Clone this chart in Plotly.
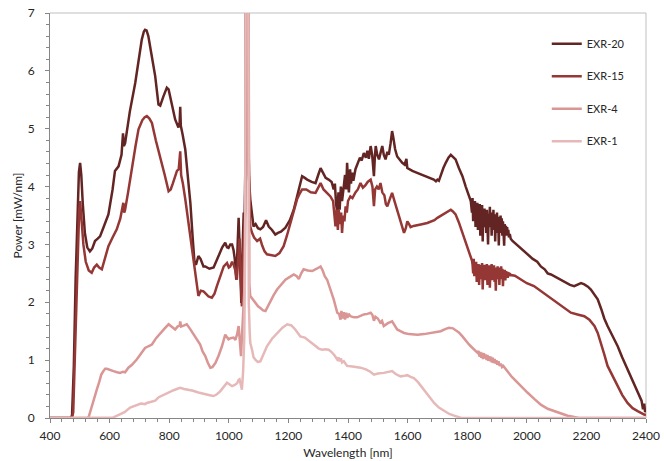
import plotly.graph_objects as go

# ---------------- data ----------------
# each series: (wavelength nm, power mW/nm); values above 7 are the clipped ~1064 nm laser line
exr20 = [(400, 0), (470, 0), (474, 0.05), (480, 0.9), (486, 2.4), (492, 3.6), (497, 4.25), (501, 4.41), (505, 4.2),
         (510, 3.7), (517, 3.2), (525, 2.95), (534, 2.88), (542, 2.93), (551, 3.06), (560, 3.1), (568, 3.14),
         (580, 3.3), (596, 3.52), (610, 3.95), (618, 4.27), (630, 4.35), (640, 4.55), (645, 4.92), (648, 4.7),
         (652, 4.75), (668, 5.3), (686, 5.79), (700, 6.3), (708, 6.54), (715, 6.68), (719, 6.71), (724, 6.7),
         (730, 6.6), (740, 6.3), (753, 5.91), (764, 5.42), (770, 5.4), (780, 5.55), (792, 5.71), (798, 5.68),
         (803, 5.56), (812, 5.35), (820, 5.16), (831, 5.02), (835, 5.1), (837, 5.38), (839, 5.05), (845, 4.9),
         (854, 4.64), (862, 4.2), (871, 3.72), (879, 3.1), (885, 2.68), (890, 2.65), (898, 2.8), (905, 2.75),
         (915, 2.62), (921, 2.62), (935, 2.58), (949, 2.6), (958, 2.7), (966, 2.8), (978, 2.95), (988, 3.03),
         (994, 2.95), (999, 2.94), (1005, 3.0), (1011, 3.0), (1016, 2.9), (1020, 2.75), (1025, 2.39), (1029, 2.9),
         (1033, 3.46), (1036, 3.0), (1040, 2.2), (1042, 1.99), (1045, 2.7), (1048, 3.4), (1050, 3.55), (1053, 3.4),
         (1056, 4.5), (1058, 12), (1064, 12), (1067, 4.2), (1070, 3.9), (1072, 3.78), (1076, 3.6), (1083, 3.31),
         (1090, 3.35), (1098, 3.28), (1106, 3.26), (1115, 3.3), (1125, 3.42), (1134, 3.31), (1145, 3.25),
         (1156, 3.17), (1165, 3.2), (1175, 3.22), (1190, 3.29), (1205, 3.42), (1218, 3.6), (1232, 3.9),
         (1246, 4.18), (1255, 4.15), (1263, 4.12), (1278, 4.08), (1291, 4.06), (1300, 4.2), (1308, 4.32),
         (1315, 4.25), (1325, 4.15), (1335, 4.12), (1345, 4.08), (1352, 3.95), (1356, 4.05), (1360, 3.7),
         (1364, 3.55), (1368, 3.9), (1372, 3.6), (1376, 4.0), (1380, 3.75), (1386, 4.01), (1390, 4.2),
         (1394, 3.95), (1397, 4.41), (1400, 4.1), (1403, 3.9), (1407, 4.3), (1410, 4.05), (1414, 4.24),
         (1418, 4.1), (1425, 4.3), (1432, 4.4), (1440, 4.5), (1446, 4.45), (1453, 4.58), (1460, 4.5),
         (1465, 4.62), (1470, 4.48), (1476, 4.7), (1481, 4.55), (1487, 4.18), (1490, 4.5), (1493, 4.7),
         (1498, 4.55), (1504, 4.47), (1510, 4.6), (1515, 4.7), (1520, 4.55), (1526, 4.47), (1532, 4.6),
         (1537, 4.55), (1543, 4.75), (1548, 4.96), (1552, 4.85), (1558, 4.65), (1565, 4.52), (1572, 4.47),
         (1582, 4.41), (1590, 4.38), (1596, 4.48), (1599, 4.32), (1605, 4.3), (1616, 4.27), (1630, 4.24),
         (1644, 4.21), (1660, 4.18), (1677, 4.15), (1688, 4.12), (1695, 4.09), (1700, 4.12), (1705, 4.1),
         (1711, 4.2), (1720, 4.32), (1728, 4.41), (1737, 4.5), (1745, 4.55), (1752, 4.52), (1761, 4.47),
         (1772, 4.32), (1784, 4.18), (1795, 4.0), (1806, 3.83), (1812, 3.75),
         (1816, 3.55), (1818, 3.8), (1820, 3.4), (1822, 3.7), (1824, 3.45), (1826, 3.75), (1828, 3.3),
         (1830, 3.65), (1832, 3.5), (1834, 3.72), (1836, 3.25), (1838, 3.6), (1840, 3.4), (1842, 3.7),
         (1844, 3.15), (1846, 3.55), (1848, 3.35), (1850, 3.68), (1852, 3.05), (1854, 3.5), (1856, 3.3),
         (1858, 3.62), (1860, 3.4), (1862, 3.58), (1864, 3.2), (1866, 3.6), (1868, 3.35), (1870, 3.0),
         (1872, 3.52), (1874, 3.3), (1876, 3.65), (1878, 3.4), (1880, 3.55), (1882, 3.15), (1884, 3.5),
         (1886, 3.3), (1888, 3.6), (1890, 3.25), (1892, 3.52), (1894, 3.05), (1896, 3.45), (1898, 3.3),
         (1900, 3.55), (1902, 3.2), (1904, 3.48), (1906, 2.98), (1908, 3.4), (1910, 3.25), (1912, 3.5),
         (1914, 3.2), (1916, 3.45), (1918, 3.15), (1920, 3.4), (1922, 3.25), (1924, 2.98), (1926, 3.35),
         (1928, 3.2), (1930, 3.32), (1932, 3.15), (1934, 3.3), (1936, 3.15), (1938, 3.25), (1940, 3.12),
         (1943, 3.18), (1946, 3.1), (1952, 3.06), (1965, 3.0), (1980, 2.93), (2002, 2.83), (2020, 2.75),
         (2035, 2.7), (2047, 2.62), (2060, 2.57), (2070, 2.5), (2081, 2.48), (2095, 2.44), (2114, 2.39),
         (2130, 2.35), (2145, 2.3), (2159, 2.28), (2170, 2.3), (2182, 2.33), (2193, 2.31), (2205, 2.27),
         (2215, 2.22), (2225, 2.15), (2238, 2.05), (2250, 1.88), (2260, 1.72), (2271, 1.59), (2288, 1.42),
         (2305, 1.24), (2320, 1.05), (2338, 0.84), (2355, 0.65), (2372, 0.44), (2385, 0.3), (2390, 0.15),
         (2394, 0.25), (2397, 0.1), (2400, 0.15)]

exr15 = [(400, 0), (474, 0), (478, 0.1), (483, 1.0), (489, 2.3), (494, 3.2), (498, 3.6), (501, 3.75), (505, 3.5),
         (512, 3.0), (520, 2.7), (530, 2.55), (540, 2.51), (548, 2.6), (557, 2.65), (565, 2.6), (574, 2.57),
         (585, 2.75), (596, 2.97), (610, 3.12), (624, 3.26), (636, 3.45), (644, 3.68), (646, 3.72), (649, 3.55),
         (652, 3.6), (662, 3.9), (675, 4.35), (687, 4.7), (697, 4.99), (710, 5.15), (718, 5.2), (725, 5.22),
         (733, 5.18), (742, 5.1), (755, 4.8), (770, 4.52), (785, 4.2), (798, 3.92), (805, 3.95), (812, 4.05),
         (820, 4.2), (826, 4.27), (832, 4.3), (835, 4.5), (837, 4.61), (840, 4.2), (846, 4.05), (854, 3.78),
         (865, 3.35), (876, 2.97), (887, 2.5), (895, 2.15), (898, 2.11), (906, 2.2), (915, 2.19), (921, 2.16),
         (932, 2.1), (943, 2.08), (952, 2.15), (960, 2.28), (972, 2.45), (983, 2.62), (994, 2.68), (1000, 2.6),
         (1005, 2.62), (1011, 2.7), (1016, 2.65), (1022, 2.55), (1027, 2.39), (1031, 2.8), (1036, 3.1),
         (1040, 2.4), (1044, 1.93), (1048, 2.8), (1052, 3.3), (1055, 3.6), (1058, 12), (1064, 12), (1067, 4.5),
         (1070, 3.5), (1072, 3.31), (1078, 3.2), (1085, 3.12), (1095, 3.06), (1105, 3.1), (1112, 2.98),
         (1120, 2.88), (1128, 2.83), (1140, 2.82), (1156, 2.8), (1170, 2.85), (1184, 2.97), (1195, 3.15),
         (1207, 3.37), (1218, 3.6), (1229, 3.78), (1238, 3.88), (1246, 3.95), (1260, 3.95), (1275, 3.9),
         (1291, 3.89), (1300, 3.98), (1308, 4.06), (1318, 3.95), (1330, 3.88), (1341, 3.83), (1350, 3.75),
         (1355, 3.5), (1358, 3.31), (1362, 3.6), (1366, 3.25), (1369, 3.6), (1373, 3.35), (1377, 3.55),
         (1380, 3.2), (1384, 3.5), (1388, 3.4), (1392, 3.66), (1396, 3.55), (1400, 3.75), (1408, 3.83),
         (1415, 3.8), (1425, 3.9), (1433, 3.95), (1442, 4.06), (1450, 3.98), (1458, 4.02), (1466, 4.08),
         (1476, 4.12), (1482, 4.0), (1487, 3.66), (1491, 3.95), (1497, 4.0), (1503, 3.95), (1509, 4.06),
         (1515, 3.9), (1522, 3.85), (1527, 3.7), (1532, 3.66), (1540, 3.78), (1548, 3.89), (1556, 3.75),
         (1565, 3.6), (1576, 3.4), (1588, 3.2), (1594, 3.28), (1599, 3.4), (1605, 3.35), (1610, 3.3),
         (1620, 3.32), (1633, 3.34), (1648, 3.35), (1666, 3.37), (1680, 3.4), (1690, 3.42), (1700, 3.46),
         (1714, 3.5), (1728, 3.55), (1738, 3.58), (1745, 3.6), (1752, 3.57), (1761, 3.52), (1772, 3.38),
         (1784, 3.2), (1795, 3.05), (1806, 2.9), (1812, 2.8), (1816, 2.72),
         (1818, 2.65), (1820, 2.5), (1822, 2.75), (1824, 2.45), (1826, 2.68), (1828, 2.5), (1830, 2.7),
         (1832, 2.35), (1834, 2.62), (1836, 2.45), (1838, 2.66), (1840, 2.3), (1842, 2.6), (1844, 2.45),
         (1846, 2.65), (1848, 2.4), (1850, 2.68), (1852, 2.22), (1854, 2.6), (1856, 2.45), (1858, 2.65),
         (1860, 2.38), (1862, 2.62), (1864, 2.5), (1866, 2.66), (1868, 2.3), (1870, 2.6), (1872, 2.42),
         (1874, 2.64), (1876, 2.25), (1878, 2.58), (1880, 2.45), (1882, 2.66), (1884, 2.38), (1886, 2.6),
         (1888, 2.45), (1890, 2.64), (1892, 2.35), (1894, 2.6), (1896, 2.2), (1898, 2.56), (1900, 2.45),
         (1902, 2.62), (1904, 2.4), (1906, 2.6), (1908, 2.3), (1910, 2.58), (1912, 2.45), (1914, 2.62),
         (1916, 2.4), (1918, 2.58), (1920, 2.28), (1922, 2.55), (1924, 2.42), (1926, 2.56), (1928, 2.38),
         (1930, 2.54), (1932, 2.44), (1934, 2.53), (1936, 2.42), (1938, 2.52), (1940, 2.45), (1943, 2.5),
         (1946, 2.47), (1960, 2.46), (1980, 2.39), (2000, 2.33), (2024, 2.28), (2045, 2.2), (2069, 2.11),
         (2085, 2.05), (2103, 1.99), (2125, 1.9), (2148, 1.82), (2170, 1.79), (2193, 1.76), (2210, 1.7),
         (2227, 1.59), (2238, 1.47), (2249, 1.3), (2260, 1.1), (2271, 0.9), (2288, 0.72), (2305, 0.55),
         (2320, 0.4), (2338, 0.26), (2355, 0.17), (2372, 0.12), (2385, 0.08), (2394, 0.06), (2400, 0.05)]

exr4 = [(400, 0), (525, 0), (530, 0.02), (540, 0.2), (550, 0.4), (557, 0.49), (565, 0.62), (572, 0.75), (579, 0.81),
        (585, 0.85), (591, 0.85), (600, 0.83), (613, 0.81), (625, 0.79), (635, 0.78), (645, 0.8), (652, 0.79),
        (663, 0.87), (675, 0.92), (691, 1.01), (705, 1.1), (719, 1.21), (730, 1.24), (742, 1.27), (756, 1.38),
        (770, 1.47), (785, 1.55), (798, 1.62), (808, 1.58), (820, 1.53), (828, 1.58), (835, 1.6), (837, 1.67),
        (840, 1.58), (850, 1.6), (859, 1.62), (870, 1.54), (882, 1.44), (893, 1.36), (904, 1.27), (912, 1.15),
        (921, 1.07), (930, 0.95), (938, 0.87), (945, 0.88), (955, 0.95), (966, 1.08), (977, 1.24), (988, 1.44),
        (994, 1.4), (999, 1.36), (1006, 1.38), (1016, 1.39), (1022, 1.35), (1028, 1.45), (1033, 1.59),
        (1037, 1.3), (1041, 1.07), (1044, 1.4), (1048, 1.76), (1052, 2.2), (1055, 3.5), (1058, 12), (1064, 12),
        (1067, 3.0), (1069, 2.3), (1072, 2.11), (1080, 2.05), (1089, 1.99), (1098, 1.93), (1106, 1.9),
        (1115, 1.86), (1123, 1.85), (1130, 1.92), (1139, 2.02), (1150, 2.12), (1162, 2.22), (1175, 2.3),
        (1190, 2.39), (1205, 2.44), (1218, 2.48), (1228, 2.45), (1235, 2.4), (1243, 2.5), (1251, 2.57),
        (1265, 2.55), (1280, 2.54), (1295, 2.58), (1308, 2.62), (1315, 2.55), (1322, 2.45), (1330, 2.39),
        (1340, 2.25), (1352, 2.05), (1364, 1.82), (1370, 1.8), (1375, 1.7), (1378, 1.85), (1382, 1.72),
        (1386, 1.83), (1390, 1.7), (1394, 1.82), (1398, 1.73), (1402, 1.8), (1408, 1.76), (1420, 1.74),
        (1431, 1.74), (1442, 1.77), (1453, 1.79), (1465, 1.8), (1476, 1.82), (1482, 1.78), (1487, 1.68),
        (1492, 1.75), (1500, 1.72), (1508, 1.65), (1514, 1.68), (1520, 1.59), (1534, 1.64), (1548, 1.67),
        (1556, 1.6), (1565, 1.53), (1576, 1.5), (1588, 1.47), (1605, 1.45), (1633, 1.44), (1655, 1.45),
        (1677, 1.47), (1695, 1.48), (1711, 1.5), (1728, 1.54), (1739, 1.56), (1752, 1.55), (1762, 1.52),
        (1772, 1.48), (1784, 1.41), (1795, 1.33), (1806, 1.27), (1812, 1.24), (1820, 1.2), (1834, 1.13),
        (1838, 1.16), (1841, 1.06), (1844, 1.14), (1847, 1.04), (1850, 1.13), (1853, 1.02), (1856, 1.12),
        (1859, 1.03), (1862, 1.1), (1865, 1.0), (1868, 1.09), (1871, 0.99), (1874, 1.07), (1877, 0.98),
        (1880, 1.06), (1883, 0.96), (1886, 1.04), (1889, 0.95), (1892, 1.02), (1895, 0.94), (1898, 1.0),
        (1901, 0.92), (1905, 0.98), (1909, 0.9), (1913, 0.94), (1917, 0.88), (1921, 0.9), (1927, 0.86),
        (1935, 0.81), (1950, 0.71), (1969, 0.61), (1985, 0.52), (2002, 0.44), (2025, 0.33), (2047, 0.23),
        (2070, 0.16), (2092, 0.12), (2115, 0.07), (2137, 0.04), (2155, 0.02), (2175, 0.0), (2400, 0.0)]

exr1 = [(400, 0), (605, 0), (612, 0.01), (620, 0.03), (635, 0.06), (650, 0.1), (669, 0.18), (680, 0.2), (691, 0.23),
        (705, 0.25), (719, 0.24), (725, 0.26), (740, 0.28), (753, 0.3), (765, 0.36), (780, 0.4), (798, 0.44),
        (815, 0.48), (830, 0.51), (837, 0.52), (850, 0.5), (865, 0.49), (880, 0.47), (898, 0.44), (920, 0.42),
        (940, 0.39), (949, 0.38), (960, 0.41), (971, 0.46), (982, 0.53), (994, 0.61), (1003, 0.58), (1011, 0.55),
        (1020, 0.57), (1028, 0.6), (1033, 0.66), (1036, 0.67), (1040, 0.58), (1044, 0.49), (1048, 0.8),
        (1052, 1.4), (1055, 3.0), (1058, 12), (1064, 12), (1067, 2.0), (1070, 1.5), (1072, 1.3), (1078, 1.18),
        (1083, 1.05), (1089, 1.01), (1097, 0.97), (1106, 0.98), (1117, 1.1), (1128, 1.24), (1145, 1.37),
        (1162, 1.47), (1180, 1.56), (1196, 1.62), (1210, 1.6), (1223, 1.53), (1232, 1.47), (1240, 1.41),
        (1255, 1.39), (1270, 1.33), (1282, 1.28), (1291, 1.24), (1302, 1.2), (1313, 1.18), (1325, 1.19),
        (1335, 1.18), (1345, 1.14), (1355, 1.08), (1364, 1.01), (1368, 1.05), (1372, 0.98), (1376, 1.03),
        (1380, 0.96), (1386, 0.98), (1397, 0.9), (1415, 0.89), (1430, 0.88), (1442, 0.87), (1460, 0.84),
        (1475, 0.8), (1487, 0.75), (1500, 0.77), (1520, 0.78), (1535, 0.8), (1548, 0.81), (1560, 0.76),
        (1576, 0.72), (1590, 0.73), (1599, 0.74), (1610, 0.71), (1621, 0.69), (1635, 0.62), (1655, 0.49),
        (1672, 0.37), (1689, 0.26), (1705, 0.18), (1722, 0.12), (1740, 0.07), (1756, 0.04), (1770, 0.01),
        (1780, 0.0), (2400, 0.0)]

series_names = ["EXR-20", "EXR-15", "EXR-4", "EXR-1"]
series_data = [exr20, exr15, exr4, exr1]
series_colors = ["#632523", "#953735", "#D99694", "#E6B9B8"]
x_ticks = [400, 600, 800, 1000, 1200, 1400, 1600, 1800, 2000, 2200, 2400]
y_ticks = [0, 1, 2, 3, 4, 5, 6, 7]

# ---------------- figure ----------------
FONT = "Lato, 'Liberation Sans', sans-serif"
fig = go.Figure()
for name, col, pts in zip(series_names, series_colors, series_data):
    xs = [p[0] for p in pts]
    ys = [p[1] for p in pts]
    fig.add_trace(go.Scatter(x=xs, y=ys, mode="lines", name=name, legendgroup=name,
                             line=dict(color=col, width=2.5)))

axis_col = "#868686"
fig.update_layout(
    width=664, height=461, autosize=False,
    margin=dict(l=50, r=18, t=13, b=43, autoexpand=False),
    paper_bgcolor="white", plot_bgcolor="white",
    font=dict(family=FONT, size=12, color="#262626"),
    showlegend=True,
    legend=dict(x=0.8335, y=0.96, xanchor="left", yanchor="top",
                bgcolor="rgba(0,0,0,0)", tracegroupgap=13.5,
                font=dict(family=FONT, size=11, color="#262626")),
    xaxis=dict(range=[400, 2400], tickvals=x_ticks, showgrid=False, zeroline=False,
               automargin=False,
               showline=True, linecolor=axis_col, linewidth=1,
               ticks="outside", ticklen=4, tickcolor=axis_col, ticklabelstandoff=3,
               minor=dict(dtick=40, ticks="outside", ticklen=3, tickcolor=axis_col),
               title=dict(text="Wavelength [nm]", standoff=6, font=dict(size=12)),
               layer="below traces"),
    yaxis=dict(range=[0, 7], tickvals=y_ticks, showgrid=False, zeroline=False,
               automargin=False,
               showline=True, linecolor=axis_col, linewidth=1,
               ticks="outside", ticklen=4, tickcolor=axis_col, ticklabelstandoff=8,
               ticklabeloverflow="allow",
               minor=dict(dtick=0.2, ticks="outside", ticklen=3, tickcolor=axis_col),
               title=dict(text="Power [mW/nm]", standoff=2, font=dict(size=12)),
               layer="below traces"),
)
# top and right border of the plot area
fig.add_shape(type="line", xref="paper", yref="paper", x0=0, x1=1, y0=1, y1=1,
              line=dict(color="#BFBFBF", width=1), layer="below")
fig.add_shape(type="line", xref="paper", yref="paper", x0=1, x1=1, y0=0, y1=1,
              line=dict(color="#BFBFBF", width=1), layer="below")

# the page's default body margin would shift the 664x461 figure; remove it
fig.write_html("out.html", config={"displayModeBar": False},
               post_script="document.body.style.margin='0px';document.body.style.overflow='hidden';")
